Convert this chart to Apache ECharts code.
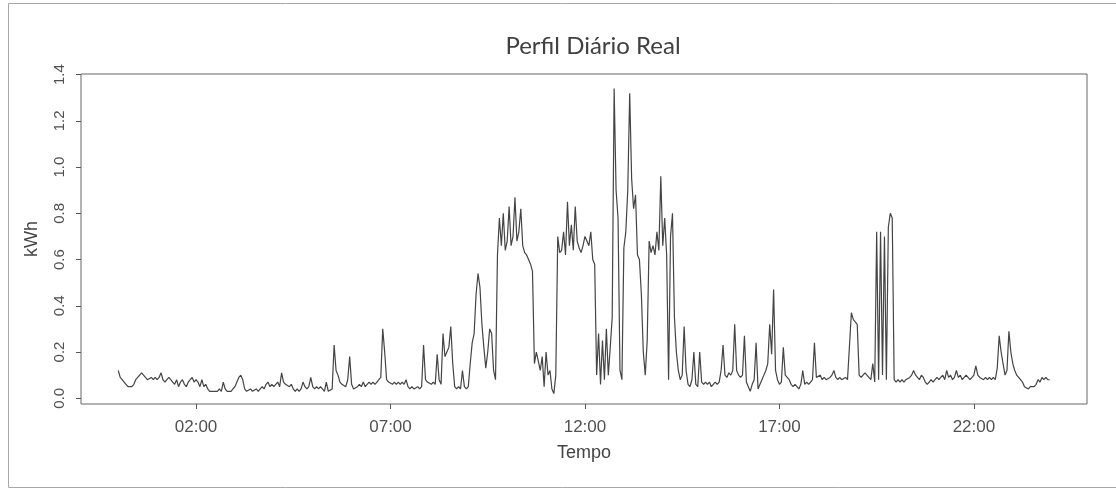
<!DOCTYPE html>
<html>
<head>
<meta charset="utf-8">
<title>Perfil Diário Real</title>
<script src="https://cdn.jsdelivr.net/npm/echarts@6/dist/echarts.min.js"></script>
<style>
  html, body { margin: 0; padding: 0; background: #ffffff; }
  #chart { width: 1116px; height: 489px; }
</style>
</head>
<body>
<div id="chart"></div>
<script>
// Consumo medido a cada 3 minutos (kWh), uma linha por hora do dia
const passoMinutos = 3;
const consumo = [
  /* 00h */ 0.12,0.09,0.08,0.07,0.06,0.05,0.05,0.05,0.06,0.08,0.09,0.10,0.11,0.10,0.09,0.08,0.08,0.09,0.08,0.09,
  /* 01h */ 0.08,0.09,0.11,0.08,0.07,0.08,0.09,0.08,0.07,0.06,0.08,0.05,0.07,0.08,0.06,0.05,0.07,0.08,0.09,0.07,
  /* 02h */ 0.08,0.07,0.05,0.08,0.05,0.06,0.04,0.03,0.03,0.03,0.03,0.03,0.04,0.03,0.07,0.04,0.03,0.03,0.03,0.04,
  /* 03h */ 0.05,0.07,0.09,0.10,0.08,0.04,0.03,0.03,0.04,0.03,0.03,0.04,0.03,0.04,0.05,0.04,0.06,0.07,0.05,0.06,
  /* 04h */ 0.05,0.06,0.07,0.05,0.11,0.07,0.06,0.06,0.05,0.06,0.04,0.03,0.04,0.03,0.04,0.07,0.05,0.04,0.05,0.09,
  /* 05h */ 0.05,0.04,0.05,0.04,0.05,0.04,0.03,0.07,0.03,0.03,0.04,0.23,0.12,0.10,0.07,0.06,0.06,0.05,0.08,0.18,
  /* 06h */ 0.06,0.04,0.04,0.05,0.06,0.05,0.07,0.05,0.06,0.07,0.06,0.07,0.06,0.07,0.08,0.09,0.30,0.20,0.08,0.07,
  /* 07h */ 0.07,0.06,0.07,0.06,0.07,0.06,0.07,0.06,0.08,0.05,0.04,0.05,0.04,0.04,0.05,0.04,0.05,0.23,0.08,0.07,
  /* 08h */ 0.07,0.06,0.07,0.06,0.19,0.08,0.06,0.28,0.18,0.20,0.22,0.31,0.15,0.05,0.04,0.05,0.04,0.12,0.05,0.04,
  /* 09h */ 0.05,0.15,0.24,0.28,0.45,0.54,0.48,0.32,0.22,0.13,0.20,0.30,0.28,0.12,0.08,0.62,0.78,0.66,0.80,0.64,
  /* 10h */ 0.68,0.83,0.66,0.70,0.87,0.68,0.72,0.82,0.66,0.63,0.62,0.60,0.58,0.55,0.15,0.20,0.16,0.12,0.18,0.05,
  /* 11h */ 0.20,0.10,0.12,0.04,0.02,0.10,0.70,0.63,0.64,0.72,0.62,0.85,0.66,0.75,0.64,0.83,0.68,0.65,0.63,0.66,
  /* 12h */ 0.70,0.68,0.66,0.72,0.60,0.58,0.10,0.28,0.06,0.25,0.08,0.30,0.10,0.22,0.35,1.34,0.90,0.78,0.12,0.08,
  /* 13h */ 0.65,0.72,0.90,1.32,0.95,0.82,0.88,0.62,0.60,0.45,0.20,0.10,0.25,0.68,0.63,0.66,0.62,0.72,0.64,0.96,
  /* 14h */ 0.66,0.78,0.62,0.08,0.70,0.80,0.35,0.20,0.12,0.08,0.10,0.31,0.12,0.06,0.05,0.08,0.20,0.06,0.05,0.20,
  /* 15h */ 0.07,0.06,0.07,0.06,0.07,0.05,0.06,0.07,0.06,0.07,0.12,0.23,0.10,0.09,0.11,0.10,0.12,0.32,0.12,0.10,
  /* 16h */ 0.09,0.10,0.27,0.07,0.05,0.03,0.06,0.08,0.24,0.04,0.06,0.08,0.10,0.12,0.15,0.32,0.19,0.47,0.12,0.08,
  /* 17h */ 0.06,0.07,0.22,0.10,0.09,0.08,0.06,0.05,0.06,0.05,0.04,0.06,0.12,0.06,0.07,0.06,0.07,0.08,0.24,0.09,
  /* 18h */ 0.09,0.10,0.08,0.09,0.08,0.08,0.09,0.10,0.12,0.09,0.08,0.09,0.08,0.08,0.09,0.08,0.08,0.37,0.34,0.33,
  /* 19h */ 0.32,0.10,0.09,0.10,0.11,0.10,0.09,0.08,0.15,0.07,0.72,0.08,0.72,0.10,0.70,0.08,0.74,0.80,0.78,0.08,
  /* 20h */ 0.07,0.08,0.07,0.08,0.07,0.08,0.08,0.09,0.10,0.12,0.10,0.09,0.08,0.10,0.09,0.07,0.06,0.07,0.08,0.07,
  /* 21h */ 0.08,0.09,0.08,0.09,0.10,0.08,0.12,0.09,0.10,0.08,0.09,0.12,0.09,0.10,0.08,0.09,0.10,0.09,0.08,0.09,
  /* 22h */ 0.10,0.14,0.10,0.09,0.09,0.08,0.09,0.08,0.09,0.08,0.09,0.08,0.13,0.27,0.20,0.15,0.10,0.12,0.29,0.20,
  /* 23h */ 0.15,0.12,0.10,0.09,0.08,0.07,0.05,0.05,0.04,0.05,0.05,0.05,0.06,0.08,0.07,0.09,0.08,0.09,0.08,0.08
];

// Marcas do eixo do tempo (em horas) e respetivos rótulos
const horasMarcadas = [2, 7, 12, 17, 22];
const rotulosTempo = ['02:00', '07:00', '12:00', '17:00', '22:00'];
// Marcas do eixo de energia
const marcasKwh = [0, 0.2, 0.4, 0.6, 0.8, 1.0, 1.2, 1.4];

// Pares [hora, kWh]
const pontos = consumo.map((v, i) => [i * passoMinutos / 60, v]);

// Margem de 4% em torno dos dados no eixo do tempo, como num gráfico base do R
const xMin = 0, xMax = (consumo.length - 1) * passoMinutos / 60;
const xPad = (xMax - xMin) * 0.04;

const chart = echarts.init(document.getElementById('chart'), null, { renderer: 'canvas' });

const corTexto = '#505050';
const fonteEixo = 'Arial, "Liberation Sans", Helvetica, sans-serif';

chart.setOption({
  animation: false,
  backgroundColor: '#ffffff',
  graphic: [{
    type: 'rect',
    shape: { x: 8.5, y: 3.5, width: 1200, height: 484 },
    style: { fill: 'none', stroke: '#a8a8a8', lineWidth: 1 },
    silent: true,
    z: -10
  }],
  title: {
    text: 'Perfil Diário Real',
    left: 588,
    textAlign: 'center',
    top: 29,
    textStyle: {
      fontFamily: 'Lato, "Open Sans", sans-serif',
      fontSize: 24,
      fontWeight: 'normal',
      color: '#404040'
    }
  },
  grid: {
    left: 81,
    right: 29,
    top: 74,
    bottom: 85,
    show: true,
    borderColor: '#666666',
    borderWidth: 1,
    backgroundColor: 'transparent'
  },
  xAxis: {
    type: 'value',
    min: xMin - xPad,
    max: xMax + xPad,
    name: 'Tempo',
    nameLocation: 'middle',
    nameGap: 40,
    nameTextStyle: { fontFamily: fonteEixo, fontSize: 18, color: '#444444' },
    axisLine: { show: false, onZero: false },
    axisTick: {
      show: true,
      inside: false,
      length: 5,
      customValues: horasMarcadas,
      lineStyle: { color: '#555555', width: 1 }
    },
    axisLabel: {
      show: true,
      margin: 15,
      customValues: horasMarcadas,
      formatter: v => rotulosTempo[horasMarcadas.indexOf(Math.round(v))] || '',
      fontFamily: fonteEixo,
      fontSize: 17,
      color: corTexto
    },
    splitLine: { show: false }
  },
  yAxis: {
    type: 'value',
    min: -0.025,
    max: 1.403,
    name: 'kWh',
    nameLocation: 'middle',
    nameGap: 40,
    nameRotate: 90,
    nameTextStyle: { fontFamily: fonteEixo, fontSize: 18, color: '#444444' },
    axisLine: { show: false, onZero: false },
    axisTick: {
      show: true,
      inside: false,
      length: 5,
      customValues: marcasKwh,
      lineStyle: { color: '#555555', width: 1 }
    },
    axisLabel: {
      show: true,
      rotate: 90,
      margin: 14,
      customValues: marcasKwh,
      formatter: v => v.toFixed(1),
      fontFamily: fonteEixo,
      fontSize: 15,
      color: corTexto
    },
    splitLine: { show: false }
  },
  series: [{
    type: 'line',
    data: pontos,
    showSymbol: false,
    symbol: 'none',
    lineStyle: { color: '#444444', width: 1.2 },
    silent: true
  }]
});
</script>
</body>
</html>
